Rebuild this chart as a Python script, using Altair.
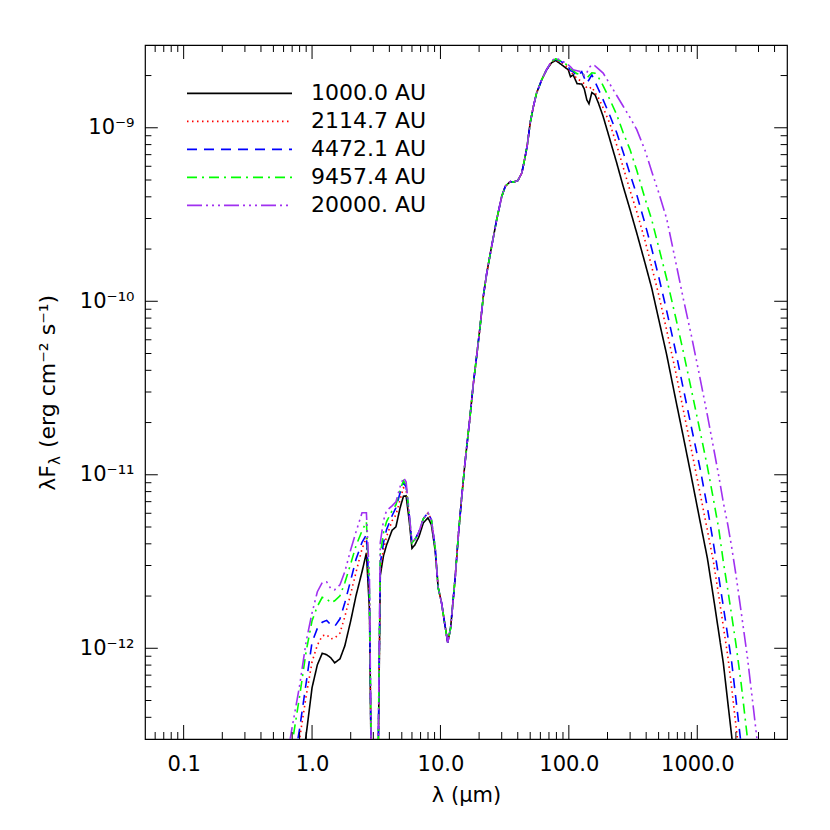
import altair as alt
import pandas as pd

# ---------------- data (wavelength in micron, log10 of lambda*F_lambda) ----------------
series_names = ["1000.0 AU", "2114.7 AU", "4472.1 AU", "9457.4 AU", "20000. AU"]
series_colors = ["#000000", "#ff0000", "#0000ff", "#00ff00", "#a030f0"]
series_dash = [[1, 0], [1.5, 3.5], [10, 7], [10, 5, 2, 5], [15, 4, 2, 4, 2, 4, 2, 4]]

lam_near = [0.60, 0.70, 0.80, 0.90, 1.0, 1.1, 1.2, 1.3, 1.4, 1.5, 1.65, 1.8, 2.0, 2.2, 2.45,
            2.65, 2.8, 2.95, 3.2, 3.4, 3.6, 3.8, 4.2, 4.5, 4.85, 5.15, 5.4, 5.7, 6.0, 6.3,
            6.8, 7.35, 8.0, 8.5, 9.1]
lam_mid = [9.6, 10.2, 10.8, 11.4, 12.0, 13.0, 13.8, 14.6, 15.5, 17.0, 18.0, 19.2, 20.3, 21.6,
           22.9, 25.0, 27.4, 30.0, 32.0, 35.0, 37.0, 40.0, 43.0, 45.5, 47.5, 50.0, 53.0, 56.0,
           61.5, 67.0]
lam_far = [73.5, 79, 88, 99, 103, 108, 116, 126, 132, 138, 143.5, 151, 160, 170, 185, 209, 236,
           265, 300, 338, 392, 442, 500, 578, 680, 779, 900, 1050, 1200, 1334, 1470, 1596, 1730,
           1855, 2000, 2200, 2450, 2750, 3100]

# shared part (all five models coincide here)
logf_mid = [-11.651, -11.738, -11.859, -11.968, -11.882, -11.599, -11.346, -11.138, -10.937,
            -10.664, -10.481, -10.308, -10.153, -9.968, -9.841, -9.686, -9.530, -9.396, -9.337,
            -9.310, -9.313, -9.305, -9.261, -9.173, -9.098, -8.971, -8.876, -8.801, -8.723,
            -8.666]

logf_near_1000 = [-13.8, -13.2, -12.81, -12.498, -12.227, -12.095, -12.029, -12.037, -12.055,
                  -12.084, -12.061, -11.986, -11.842, -11.697, -11.559, -11.450, -11.78, -13.3,
                  -13.3, -11.58, -11.467, -11.406, -11.320, -11.300, -11.190, -11.124, -11.121,
                  -11.259, -11.424, -11.406, -11.357, -11.278, -11.248, -11.288, -11.438]
logf_near_2114 = [-13.4, -12.81, -12.52, -12.275, -12.078, -11.982, -11.928, -11.922, -11.945,
                  -11.942, -11.912, -11.818, -11.686, -11.562, -11.427, -11.363, -11.74, -13.3,
                  -13.3, -11.55, -11.432, -11.357, -11.265, -11.231, -11.144, -11.075, -11.086,
                  -11.236, -11.392, -11.375, -11.329, -11.254, -11.219, -11.259, -11.421]
logf_near_4472 = [-13.2, -12.72, -12.464, -12.199, -11.965, -11.885, -11.850, -11.839, -11.865,
                  -11.874, -11.830, -11.738, -11.608, -11.487, -11.389, -11.346, -11.71, -13.3,
                  -13.3, -11.51, -11.392, -11.317, -11.236, -11.190, -11.104, -11.046, -11.069,
                  -11.225, -11.392, -11.375, -11.329, -11.254, -11.219, -11.259, -11.421]
logf_near_9457 = [-13.0, -12.548, -12.276, -12.017, -11.841, -11.758, -11.706, -11.715, -11.738,
                  -11.726, -11.697, -11.622, -11.513, -11.409, -11.323, -11.271, -11.66, -13.3,
                  -13.3, -11.46, -11.334, -11.271, -11.207, -11.173, -11.086, -11.035, -11.058,
                  -11.219, -11.392, -11.375, -11.329, -11.254, -11.219, -11.259, -11.421]
logf_near_20000 = [-12.75, -12.455, -12.216, -11.960, -11.796, -11.674, -11.622, -11.617, -11.657,
                   -11.663, -11.634, -11.559, -11.432, -11.329, -11.219, -11.219, -11.60, -13.3,
                   -13.3, -11.39, -11.265, -11.207, -11.179, -11.156, -11.069, -11.017, -11.040,
                   -11.213, -11.392, -11.375, -11.329, -11.254, -11.219, -11.259, -11.421]

logf_far_1000 = [-8.624, -8.612, -8.637, -8.666, -8.706, -8.695, -8.746, -8.748, -8.777, -8.839,
                 -8.862, -8.797, -8.810, -8.858, -8.935, -9.069, -9.203, -9.338, -9.473, -9.607,
                 -9.780, -9.924, -10.101, -10.308, -10.568, -10.781, -11.012, -11.265, -11.482,
                 -11.701, -11.908, -12.085, -12.312, -12.508, -12.723, -13.017, -13.36, -13.8,
                 -14.2]
logf_far_2114 = [-8.617, -8.608, -8.625, -8.654, -8.683, -8.689, -8.718, -8.733, -8.746, -8.771,
                 -8.775, -8.764, -8.798, -8.827, -8.885, -8.977, -9.101, -9.228, -9.363, -9.484,
                 -9.651, -9.801, -9.960, -10.167, -10.409, -10.627, -10.855, -11.103, -11.321,
                 -11.497, -11.697, -11.874, -12.047, -12.231, -12.443, -12.714, -13.046, -13.392,
                 -13.80]
logf_far_4472 = [-8.617, -8.605, -8.620, -8.648, -8.671, -8.677, -8.704, -8.677, -8.712, -8.742,
                 -8.723, -8.695, -8.735, -8.778, -8.839, -8.931, -9.029, -9.141, -9.268, -9.386,
                 -9.553, -9.697, -9.856, -10.055, -10.291, -10.504, -10.726, -10.960, -11.190,
                 -11.392, -11.588, -11.759, -11.931, -12.081, -12.292, -12.560, -12.867, -13.219,
                 -13.62]
logf_far_9457 = [-8.617, -8.603, -8.617, -8.643, -8.660, -8.671, -8.689, -8.683, -8.700, -8.714,
                 -8.700, -8.683, -8.686, -8.709, -8.758, -8.839, -8.925, -9.029, -9.127, -9.245,
                 -9.409, -9.530, -9.686, -9.870, -10.095, -10.291, -10.510, -10.746, -10.954,
                 -11.138, -11.311, -11.501, -11.664, -11.812, -11.974, -12.206, -12.508, -12.839,
                 -13.219]
logf_far_20000 = [-8.614, -8.597, -8.614, -8.637, -8.648, -8.666, -8.671, -8.677, -8.700, -8.683,
                  -8.654, -8.637, -8.643, -8.660, -8.685, -8.749, -8.814, -8.876, -8.942, -9.011,
                  -9.130, -9.252, -9.372, -9.524, -9.774, -9.986, -10.198, -10.441, -10.658,
                  -10.838, -11.006, -11.160, -11.289, -11.418, -11.575, -11.793, -12.043, -12.357,
                  -12.693]

near_sets = [logf_near_1000, logf_near_2114, logf_near_4472, logf_near_9457, logf_near_20000]
far_sets = [logf_far_1000, logf_far_2114, logf_far_4472, logf_far_9457, logf_far_20000]

# axis ticks / labels
x_tick_values = [0.1, 1, 10, 100, 1000]
x_tick_labels = ["0.1", "1.0", "10.0", "100.0", "1000.0"]
x_minor_values = [0.06, 0.07, 0.08, 0.09, 0.2, 0.3, 0.4, 0.5, 0.6, 0.7, 0.8, 0.9,
                  2, 3, 4, 5, 6, 7, 8, 9, 20, 30, 40, 50, 60, 70, 80, 90,
                  200, 300, 400, 500, 600, 700, 800, 900, 2000, 3000, 4000]
y_tick_values = [1e-12, 1e-11, 1e-10, 1e-9]
y_tick_labels = ["10\u207b\u00b9\u00b2", "10\u207b\u00b9\u00b9", "10\u207b\u00b9\u2070", "10\u207b\u2079"]
y_minor_values = [4e-13, 5e-13, 6e-13, 7e-13, 8e-13, 9e-13,
                  2e-12, 3e-12, 4e-12, 5e-12, 6e-12, 7e-12, 8e-12, 9e-12,
                  2e-11, 3e-11, 4e-11, 5e-11, 6e-11, 7e-11, 8e-11, 9e-11,
                  2e-10, 3e-10, 4e-10, 5e-10, 6e-10, 7e-10, 8e-10, 9e-10, 2e-9]
y_title_parts = ["\u03bbF", "\u03bb", "(erg cm\u207b\u00b2 s\u207b\u00b9)"]
x_title = "\u03bb (\u03bcm)"

# ---------------- build table ----------------
rows = []
lam_all = lam_near + lam_mid + lam_far
for k, name in enumerate(series_names):
    logs = near_sets[k] + logf_mid + far_sets[k]
    assert len(logs) == len(lam_all)
    for j, (l, v) in enumerate(zip(lam_all, logs)):
        rows.append({"lam": l, "flux": 10.0 ** v, "series": name, "k": k, "idx": j})
df = pd.DataFrame(rows)

W, H = 642, 694
FONT = "DejaVu Sans"

xscale = alt.Scale(type="log", domain=[0.05, 5000], nice=False)
yscale = alt.Scale(type="log", domain=[3e-13, 3e-9], nice=False)

x_label_expr = "[" + ",".join("'%s'" % s for s in x_tick_labels) + "][round(log(datum.value)/LN10)+1]"
y_label_expr = "[" + ",".join("'%s'" % s for s in y_tick_labels) + "][round(log(datum.value)/LN10)+12]"

xaxis = alt.Axis(values=x_tick_values, labelExpr=x_label_expr, ticks=False, tickSize=0,
                 domain=False, grid=False, labelFont=FONT, labelFontSize=21, labelColor="black",
                 labelPadding=14, labelFlush=False, title=x_title, titleFont=FONT,
                 titleFontSize=21, titleFontWeight="normal", titleColor="black", titlePadding=10)
yaxis = alt.Axis(values=y_tick_values, labelExpr=y_label_expr, ticks=False, tickSize=0,
                 domain=False, grid=False, labelFont=FONT, labelFontSize=21, labelColor="black",
                 labelPadding=11, labelFlush=False, title=None)

X = lambda f: alt.X(f + ":Q", scale=xscale, axis=xaxis)
Y = lambda f: alt.Y(f + ":Q", scale=yscale, axis=yaxis)

leg = alt.Legend(title=None, orient="none", legendX=41, legendY=34.5, symbolType="stroke",
                 symbolSize=11025, symbolStrokeWidth=1.6, clipHeight=27.7, rowPadding=0,
                 labelFont=FONT, labelFontSize=22, labelColor="black", labelOffset=18,
                 padding=0, labelLimit=400)

color = alt.Color("series:N", scale=alt.Scale(domain=series_names, range=series_colors), legend=leg)
dash = alt.StrokeDash("series:N", scale=alt.Scale(domain=series_names, range=series_dash), legend=leg)

base = alt.Chart(df)
lines = [
    base.transform_filter(alt.datum.k == k)
    .mark_line(clip=True, strokeWidth=1.6)
    .encode(x=X("lam"), y=Y("flux"), color=color, strokeDash=dash, order="idx:Q")
    for k in range(len(series_names))
]

xmaj = pd.DataFrame({"lam": x_tick_values})
xmin = pd.DataFrame({"lam": x_minor_values})
ymaj = pd.DataFrame({"flux": y_tick_values})
ymin = pd.DataFrame({"flux": y_minor_values})

tick_layers = []
for d, L in [(xmaj, 14), (xmin, 7)]:
    tick_layers.append(alt.Chart(d).mark_rule(color="black", strokeWidth=1)
                       .encode(x=X("lam"), y=alt.value(H), y2=alt.value(H - L)))
    tick_layers.append(alt.Chart(d).mark_rule(color="black", strokeWidth=1)
                       .encode(x=X("lam"), y=alt.value(0), y2=alt.value(L)))
for d, L in [(ymaj, 12.8), (ymin, 6.4)]:
    tick_layers.append(alt.Chart(d).mark_rule(color="black", strokeWidth=1)
                       .encode(y=Y("flux"), x=alt.value(0), x2=alt.value(L)))
    tick_layers.append(alt.Chart(d).mark_rule(color="black", strokeWidth=1)
                       .encode(y=Y("flux"), x=alt.value(W), x2=alt.value(W - L)))

# y title built from pieces (to get the subscript lambda)
TY, TX = 420, -90
t1 = alt.Chart(pd.DataFrame({"t": [y_title_parts[0]]})).mark_text(
    font=FONT, fontSize=22, angle=270, align="right", baseline="alphabetic", color="black"
).encode(text="t:N", x=alt.value(TX), y=alt.value(TY))
t2 = alt.Chart(pd.DataFrame({"t": [y_title_parts[1]]})).mark_text(
    font=FONT, fontSize=15, angle=270, align="left", baseline="alphabetic", color="black"
).encode(text="t:N", x=alt.value(TX + 5), y=alt.value(TY))
t3 = alt.Chart(pd.DataFrame({"t": [y_title_parts[2]]})).mark_text(
    font=FONT, fontSize=22, angle=270, align="left", baseline="alphabetic", color="black"
).encode(text="t:N", x=alt.value(TX), y=alt.value(TY - 17))

chart = alt.layer(*lines, *tick_layers, t1, t2, t3).properties(
    width=W, height=H,
    padding={"left": 137, "top": 37, "right": 35, "bottom": 77},
    autosize=alt.AutoSizeParams(type="none"),
).configure_view(stroke="black", strokeWidth=1.2)

chart.save("out.html", embed_options={"renderer": "svg", "actions": False})
